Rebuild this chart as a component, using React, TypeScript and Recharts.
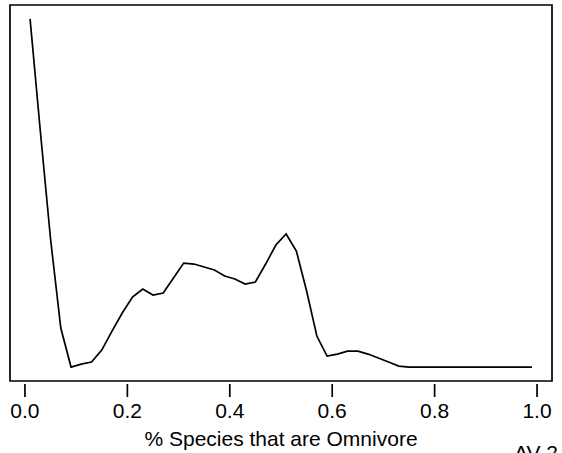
import { LineChart, Line, XAxis, YAxis, ReferenceArea } from 'recharts';

// share of species that are omnivores (bin centres) and the curve height at each
const xValues = [
  0.01, 0.03, 0.05, 0.07, 0.09, 0.11, 0.13, 0.15, 0.17, 0.19,
  0.21, 0.23, 0.25, 0.27, 0.29, 0.31, 0.33, 0.35, 0.37, 0.39,
  0.41, 0.43, 0.45, 0.47, 0.49, 0.51, 0.53, 0.55, 0.57, 0.59,
  0.61, 0.63, 0.65, 0.67, 0.69, 0.71, 0.73, 0.75, 0.77, 0.79,
  0.81, 0.83, 0.85, 0.87, 0.89, 0.91, 0.93, 0.95, 0.97, 0.99,
];
const yValues = [
  3.48, 2.36, 1.28, 0.39, 0.0, 0.03, 0.05, 0.17, 0.36, 0.54,
  0.7, 0.78, 0.72, 0.74, 0.89, 1.04, 1.03, 1.0, 0.97, 0.91,
  0.88, 0.83, 0.85, 1.03, 1.22, 1.33, 1.16, 0.76, 0.31, 0.11,
  0.13, 0.16, 0.16, 0.13, 0.09, 0.05, 0.01, 0.0, 0.0, 0.0,
  0.0, 0.0, 0.0, 0.0, 0.0, 0.0, 0.0, 0.0, 0.0, 0.0,
];
const xTicks = [0, 0.2, 0.4, 0.6, 0.8, 1.0];

const data = xValues.map((x, i) => ({ x, y: yValues[i] }));

// R style 4% padding around the data range
const pad = (lo: number, hi: number): [number, number] => {
  const d = (hi - lo) * 0.04;
  return [lo - d, hi + d];
};
const xDomain = pad(Math.min(...xValues), Math.max(...xValues));
const yDomain = pad(Math.min(...yValues), Math.max(...yValues));

const font = '"Liberation Sans", Arial, Helvetica, sans-serif';

function Tick(props: any) {
  const { x, y, payload } = props;
  return (
    <g>
      <line x1={x} x2={x} y1={y + 3} y2={y + 16} stroke="#000" strokeWidth={1.7} />
      <text x={x} y={y + 37} textAnchor="middle" fontSize={21} fontFamily={font} fill="#000">
        {Number(payload.value).toFixed(1)}
      </text>
    </g>
  );
}

export default function App() {
  return (
    <div
      style={{
        position: 'absolute',
        left: 0,
        top: 0,
        width: 562,
        height: 453,
        overflow: 'hidden',
        background: '#fff',
        fontFamily: font,
      }}
    >
      <LineChart
        width={562}
        height={453}
        data={data}
        margin={{ top: 5, right: 10, left: 10, bottom: 7 }}
      >
        <XAxis
          dataKey="x"
          type="number"
          domain={xDomain}
          ticks={xTicks}
          allowDataOverflow
          axisLine={false}
          tickLine={false}
          tickSize={0}
          tickMargin={0}
          height={65}
          tick={<Tick />}
          label={{
            value: '% Species that are Omnivore',
            position: 'insideBottom',
            offset: 0,
            fontSize: 21,
            fontFamily: font,
            fill: '#000',
          }}
        />
        <YAxis hide type="number" domain={yDomain} allowDataOverflow width={0} />
        <ReferenceArea
          x1={xDomain[0]}
          x2={xDomain[1]}
          y1={yDomain[0]}
          y2={yDomain[1]}
          fill="none"
          stroke="#000"
          strokeWidth={1.7}
          ifOverflow="visible"
        />
        <Line
          type="linear"
          dataKey="y"
          stroke="#000"
          strokeWidth={1.7}
          dot={false}
          isAnimationActive={false}
        />
      </LineChart>
      <div
        style={{
          position: 'absolute',
          left: 514,
          top: 442,
          fontSize: 21,
          lineHeight: '21px',
          whiteSpace: 'nowrap',
          color: '#000',
        }}
      >
        AV 2
      </div>
    </div>
  );
}
